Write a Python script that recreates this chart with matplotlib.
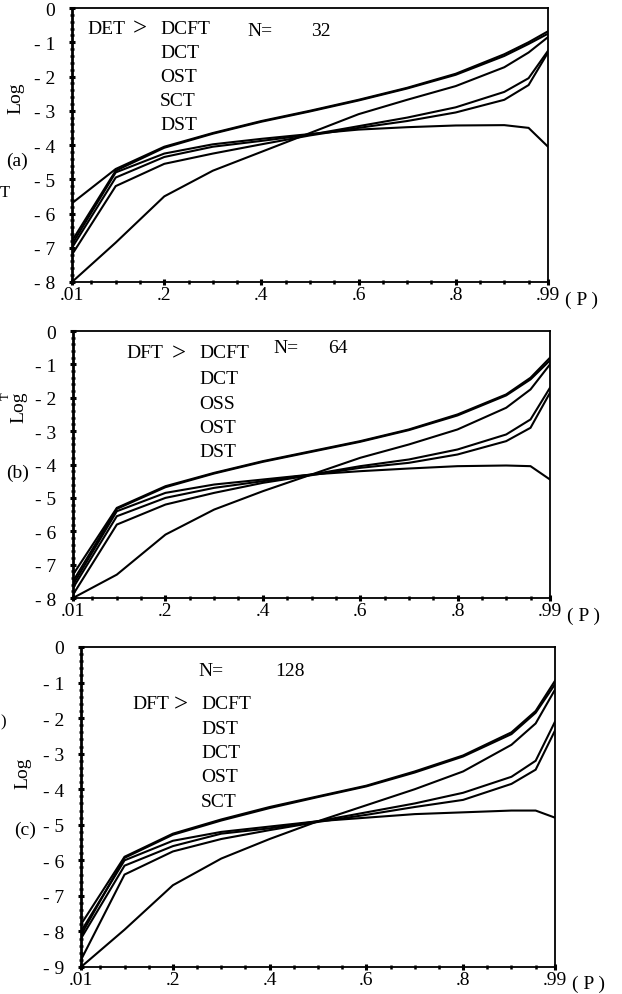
import matplotlib
matplotlib.use("Agg")
import matplotlib.pyplot as plt
import numpy as np

# ---------------- data ----------------
p = [0.01, 0.1, 0.2, 0.3, 0.4, 0.5, 0.6, 0.7, 0.8, 0.9, 0.95, 0.99]

# panel (a), N = 32
a_top1 = [-5.7, -4.7, -4.05, -3.65, -3.3, -3.0, -2.68, -2.33, -1.92, -1.35, -1.0, -0.68]
a_top2 = [-6.8, -4.75, -4.08, -3.67, -3.32, -3.02, -2.7, -2.35, -1.95, -1.4, -1.05, -0.75]
a_low = [-8.0, -6.85, -5.5, -4.75, -4.2, -3.65, -3.1, -2.68, -2.28, -1.73, -1.3, -0.85]
a_droop = [-6.9, -4.8, -4.25, -3.98, -3.82, -3.68, -3.55, -3.48, -3.43, -3.42, -3.5, -4.05]
a_mid1 = [-7.0, -4.95, -4.35, -4.05, -3.88, -3.7, -3.45, -3.2, -2.9, -2.45, -2.05, -1.25]
a_mid2 = [-7.2, -5.2, -4.55, -4.25, -3.98, -3.72, -3.5, -3.3, -3.05, -2.68, -2.25, -1.3]

# panel (b), N = 64
b_top1 = [-7.3, -5.3, -4.65, -4.25, -3.9, -3.6, -3.3, -2.95, -2.5, -1.9, -1.4, -0.8]
b_top2 = [-7.5, -5.33, -4.68, -4.27, -3.92, -3.62, -3.32, -2.97, -2.53, -1.93, -1.45, -0.88]
b_low = [-8.0, -7.3, -6.1, -5.35, -4.8, -4.3, -3.8, -3.4, -2.95, -2.3, -1.75, -1.0]
b_droop = [-7.6, -5.4, -4.85, -4.6, -4.45, -4.3, -4.2, -4.12, -4.05, -4.03, -4.05, -4.45]
b_mid1 = [-7.7, -5.55, -5.0, -4.7, -4.5, -4.3, -4.05, -3.85, -3.55, -3.1, -2.65, -1.7]
b_mid2 = [-7.9, -5.8, -5.2, -4.85, -4.55, -4.32, -4.1, -3.95, -3.7, -3.3, -2.9, -1.85]

# panel (c), N = 128
c_top1 = [-7.8, -5.9, -5.25, -4.85, -4.5, -4.2, -3.9, -3.5, -3.05, -2.4, -1.8, -0.95]
c_top2 = [-8.1, -5.93, -5.28, -4.88, -4.53, -4.22, -3.92, -3.53, -3.08, -2.45, -1.85, -1.05]
c_low = [-9.0, -7.95, -6.7, -5.95, -5.4, -4.9, -4.45, -4.0, -3.5, -2.75, -2.15, -1.2]
c_droop = [-8.0, -6.0, -5.45, -5.2, -5.05, -4.9, -4.8, -4.7, -4.65, -4.6, -4.6, -4.8]
c_mid1 = [-8.2, -6.15, -5.6, -5.25, -5.1, -4.9, -4.65, -4.4, -4.1, -3.65, -3.2, -2.1]
c_mid2 = [-8.8, -6.4, -5.75, -5.4, -5.15, -4.92, -4.72, -4.5, -4.3, -3.85, -3.45, -2.35]

x_ticks = [0.01, 0.2, 0.4, 0.6, 0.8, 0.99]
x_ticklabels = [".01", ".2", ".4", ".6", ".8", ".99"]

legend_a = ["DCFT", "DCT", "OST", "SCT", "DST"]
legend_b = ["DCFT", "DCT", "OSS", "OST", "DST"]
legend_c = ["DCFT", "DST", "DCT", "OST", "SCT"]

# ---------------- figure ----------------
W, H = 622, 995
plt.rcParams["font.family"] = ["Liberation Serif", "DejaVu Serif"]
fig = plt.figure(figsize=(W / 100, H / 100), dpi=100)

FS = 14


def px_axes(l, t, r, b):
    return fig.add_axes([l / W, 1 - b / H, (r - l) / W, (b - t) / H])


def ftext(x, y, s, **kw):
    kw.setdefault("fontsize", FS)
    kw.setdefault("va", "center")
    kw.setdefault("ha", "left")
    fig.text(x / W, 1 - y / H, s, **kw)


def style_axes(ax, ymin):
    ax.set_xlim(0.01, 0.99)
    ax.set_ylim(ymin, 0)
    ax.set_xticks(x_ticks)
    ax.set_xticklabels(x_ticklabels, fontsize=FS)
    ax.set_xticks(np.arange(0.05, 0.96, 0.05), minor=True)
    yt = list(range(0, ymin - 1, -1))
    ax.set_yticks(yt)
    ax.set_yticklabels(["0" if v == 0 else "- %d" % (-v) for v in yt], fontsize=FS)
    ax.set_yticks(np.arange(ymin, 0.001, 0.2), minor=True)
    ax.tick_params(which="major", direction="inout", length=4, width=2.2, pad=10, axis="y")
    ax.tick_params(which="major", direction="inout", length=4, width=2.2, pad=1, axis="x")
    ax.tick_params(which="minor", direction="inout", length=3, width=1.8)
    for side in ["top", "right", "bottom"]:
        ax.spines[side].set_linewidth(1.3)
    ax.spines["left"].set_linewidth(2.0)


def draw(ax, series):
    for s in series:
        ax.plot(p, s, color="black", lw=1.5, solid_joinstyle="miter")


# panel (a)
axa = px_axes(72, 9, 548, 283)
draw(axa, [a_top1, a_top2, a_low, a_droop, a_mid1, a_mid2])
style_axes(axa, -8)
ftext(87, 29, "DET")
ftext(133, 29, ">", fontsize=18)
ftext(160, 29, legend_a[0])
for i, lab in enumerate(legend_a[1:]):
    ftext(160, 53 + 24.3 * i, lab)
ftext(247, 31, "N=")
ftext(311, 31, "32")
ftext(6, 161, "(a)")
ftext(16, 98, "Log", rotation=90, ha="center")
ftext(0, 193, "T", fontsize=12)
ftext(565, 300, "( P )")

# panel (b)
axb = px_axes(73, 332, 550, 599)
draw(axb, [b_top1, b_top2, b_low, b_droop, b_mid1, b_mid2])
style_axes(axb, -8)
ftext(126, 354, "DFT")
ftext(172, 354, ">", fontsize=18)
ftext(199, 354, legend_b[0])
for i, lab in enumerate(legend_b[1:]):
    ftext(199, 380 + 24.3 * i, lab)
ftext(273, 349, "N=")
ftext(328, 349, "64")
ftext(6, 473, "(b)")
ftext(19, 407, "Log", rotation=90, ha="center")
ftext(0, 396, "T", rotation=90, fontsize=9)
ftext(567, 616, "( P )")

# panel (c)
axc = px_axes(81, 648, 555, 968)
draw(axc, [c_top1, c_top2, c_low, c_droop, c_mid1, c_mid2])
style_axes(axc, -9)
ftext(198, 672, "N=")
ftext(275, 672, "128")
ftext(132, 705, "DFT")
ftext(174, 705, ">", fontsize=18)
ftext(201, 705, legend_c[0])
for i, lab in enumerate(legend_c[1:]):
    ftext(201, 729 + 24.5 * i, lab)
ftext(14, 830, "(c)")
ftext(23, 773, "Log", rotation=90, ha="center")
ftext(0, 722, ")", fontsize=12)
ftext(572, 984, "( P )")

fig.savefig("out.png", dpi=100)
